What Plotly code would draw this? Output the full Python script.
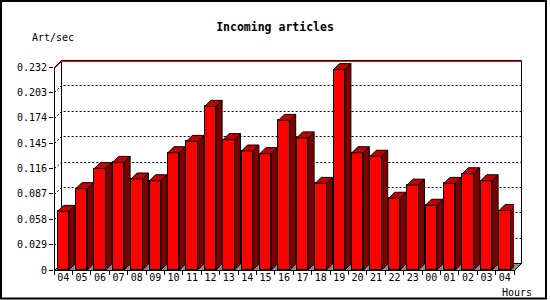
import math
import plotly.graph_objects as go

# ---- data ----
hours = ["04", "05", "06", "07", "08", "09", "10", "11", "12", "13", "14", "15",
         "16", "17", "18", "19", "20", "21", "22", "23", "00", "01", "02", "03", "04"]
articles_per_sec = [0.067, 0.093, 0.116, 0.123, 0.104, 0.102, 0.134, 0.147, 0.187,
                    0.149, 0.136, 0.133, 0.171, 0.151, 0.099, 0.229, 0.134, 0.130,
                    0.082, 0.097, 0.074, 0.099, 0.110, 0.102, 0.068]
y_tick_values = [0, 0.029, 0.058, 0.087, 0.116, 0.145, 0.174, 0.203, 0.232]
y_tick_labels = ["0", "0.029", "0.058", "0.087", "0.116", "0.145", "0.174", "0.203", "0.232"]
max_line_value = 0.2305

# ---- layout constants ----
W, H = 550, 300
ML, MR, MT, MB = 54, 36, 57, 30
PLOT_W = W - ML - MR
PLOT_H = H - MT - MB
Y_TOP = y_tick_values[-1]
TOP_PX = 203                      # pixel height of Y_TOP above the floor
Y_MAX = Y_TOP * PLOT_H / TOP_PX
N = len(hours)
CAT_PX = PLOT_W / N
BAR_W = 0.62
BAR_D = 6                         # bar depth in px
WALL_D = 7                        # wall depth in px

FRONT = "#ff0000"
TOP = "#c40000"
SIDE = "#800000"
FLOOR = "#8c8c8c"
FONT = "DejaVu Sans Mono"

x_idx = list(range(N))

fig = go.Figure()
fig.add_trace(go.Bar(
    x=x_idx, y=articles_per_sec, width=BAR_W,
    marker=dict(color=FRONT, line=dict(color="black", width=1)),
    hoverinfo="skip", showlegend=False,
))

shapes = []
PX_PER_UNIT = PLOT_H / Y_MAX
BOTTOM = H - MB


def snap(xpx, ypx):
    """(px right of plot left, px above floor) -> crisp paper coordinates"""
    sx = round(ML + xpx) + 0.5
    sy = round(BOTTOM - ypx) + 0.5
    return (sx - ML) / PLOT_W, (BOTTOM - sy) / PLOT_H


def ppath(pts_px, close=False):
    pts = [snap(x, y) for x, y in pts_px]
    s = "M " + " L ".join(f"{x:.5f},{y:.5f}" for x, y in pts)
    return s + (" Z" if close else "")


def dpath(pts, close=False):
    s = "M " + " L ".join(f"{x:.5f},{y:.6f}" for x, y in pts)
    return s + (" Z" if close else "")


d = WALL_D
top_px = Y_TOP * PX_PER_UNIT

# back wall edges
shapes.append(dict(type="path", xref="paper", yref="paper", layer="below",
                   path=ppath([(d, d), (d, top_px + d), (PLOT_W + d, top_px + d), (PLOT_W + d, d)]),
                   line=dict(color="black", width=1)))
# dotted gridlines on back wall
for v in y_tick_values[1:-1]:
    vp = v * PX_PER_UNIT
    shapes.append(dict(type="path", xref="paper", yref="paper", layer="below",
                       path=ppath([(0, vp), (d, vp + d), (PLOT_W + d, vp + d)]),
                       line=dict(color="black", width=1, dash="2px,2px")))
# red max line
mp = max_line_value * PX_PER_UNIT
shapes.append(dict(type="path", xref="paper", yref="paper", layer="below",
                   path=ppath([(0, mp), (d, mp + d), (PLOT_W + d, mp + d)]),
                   line=dict(color="#ff0000", width=1)))
# floor
shapes.append(dict(type="path", xref="paper", yref="paper", layer="below",
                   path=ppath([(0, 0), (PLOT_W, 0), (PLOT_W + d, d), (d, d)], close=True),
                   fillcolor=FLOOR, line=dict(color="black", width=1)))

# bar top and side faces
DX = BAR_D / CAT_PX
DY = BAR_D / PX_PER_UNIT
for i, v in zip(x_idx, articles_per_sec):
    x0, x1 = i - BAR_W / 2, i + BAR_W / 2
    shapes.append(dict(type="path", xref="x", yref="y", layer="above",
                       path=dpath([(x0, v), (x1, v), (x1 + DX, v + DY), (x0 + DX, v + DY)], close=True),
                       fillcolor=TOP, line=dict(color="black", width=1)))
    shapes.append(dict(type="path", xref="x", yref="y", layer="above",
                       path=dpath([(x1, 0), (x1, v), (x1 + DX, v + DY), (x1 + DX, DY)], close=True),
                       fillcolor=SIDE, line=dict(color="black", width=1)))

# front frame
shapes.append(dict(type="path", xref="paper", yref="paper", layer="above",
                   path=ppath([(d, top_px + d), (0, top_px), (0, 0), (PLOT_W, 0), (PLOT_W + d, d)]),
                   line=dict(color="black", width=1)))


def px_x(p):
    return (p - ML) / PLOT_W


def px_y(p):
    return (BOTTOM - p) / PLOT_H


# outer border
shapes.append(dict(type="rect", xref="paper", yref="paper", layer="above",
                   x0=px_x(1), x1=px_x(546), y0=px_y(298.5), y1=px_y(1),
                   line=dict(color="black", width=2), fillcolor="rgba(0,0,0,0)"))

annotations = [
    dict(text="Art/sec", xref="paper", yref="paper", x=px_x(30), y=px_y(37),
         xanchor="left", yanchor="middle", showarrow=False,
         font=dict(family=FONT, size=10, color="black")),
    dict(text="Hours", xref="paper", yref="paper", x=px_x(534), y=px_y(292.5),
         xanchor="right", yanchor="middle", showarrow=False,
         font=dict(family=FONT, size=10, color="black")),
]

fig.update_layout(
    width=W, height=H,
    margin=dict(l=ML, r=MR, t=MT, b=MB, pad=0),
    paper_bgcolor="white", plot_bgcolor="white",
    title=dict(text="<b>Incoming articles</b>", x=0.5, xref="container", xanchor="center",
               y=1 - 27 / H, yref="container", yanchor="middle",
               font=dict(family=FONT, size=11.5, color="black")),
    shapes=shapes, annotations=annotations,
    bargap=0,
    xaxis=dict(type="linear", range=[-0.5, N - 0.5], tickvals=x_idx, ticktext=hours,
               ticks="", showgrid=False, zeroline=False, showline=False,
               tickfont=dict(family=FONT, size=10, color="black"),
               minor=dict(ticks="outside", tick0=-0.5, dtick=1, ticklen=4,
                          tickcolor="black", tickwidth=1, showgrid=False)),
    yaxis=dict(range=[0, Y_MAX], tickvals=y_tick_values, ticktext=y_tick_labels,
               ticks="outside", ticklen=4, tickcolor="black", tickwidth=1,
               showgrid=False, zeroline=False, showline=False,
               tickfont=dict(family=FONT, size=10, color="black")),
)

fig.write_html("out.html")
